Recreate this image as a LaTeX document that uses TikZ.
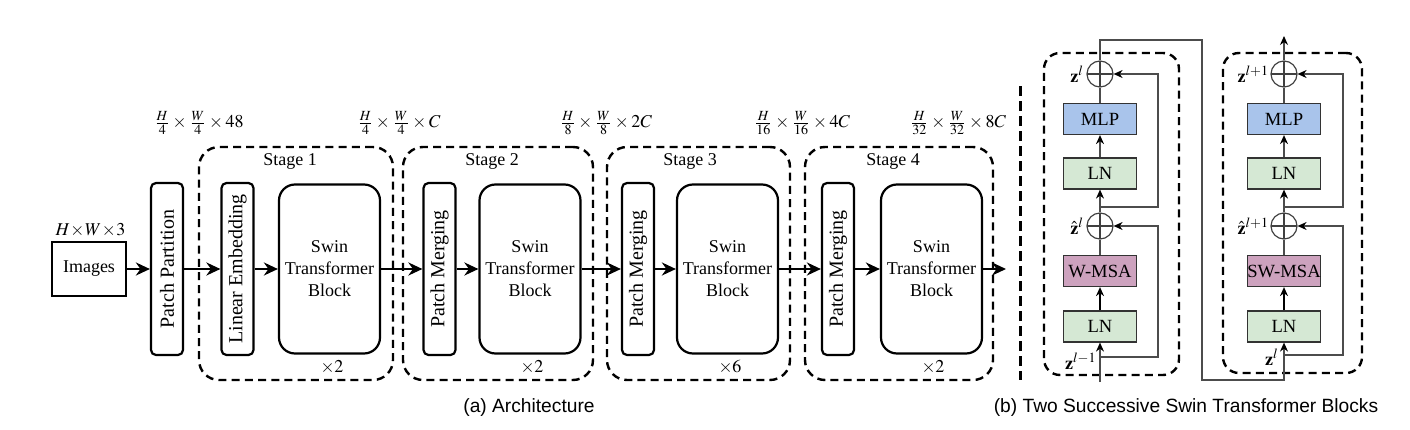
\documentclass[tikz,border=0pt]{standalone}
\usepackage{mathptmx}
\usepackage{fontspec}
\setmainfont{Liberation Serif}
\newfontfamily\capfont{Liberation Sans}
\usetikzlibrary{arrows.meta}
\definecolor{mlpblue}{HTML}{A9C4EB}
\definecolor{lngreen}{HTML}{D5E8D4}
\definecolor{msapink}{HTML}{CDA2BE}
\begin{document}
\begin{tikzpicture}[x=0.5pt,y=-0.5pt,
  font=\fontsize{9}{11}\selectfont,
  blk/.style={draw, line width=1.1pt, rounded corners=2.5pt, inner sep=0pt},
  vblk/.style={blk, rotate=90, minimum width=86pt, minimum height=16pt, font=\fontsize{10}{12}\selectfont},
  swin/.style={draw, line width=1.1pt, rounded corners=8pt, minimum width=50.5pt, minimum height=84.5pt, align=center, inner sep=0pt},
  stage/.style={draw, line width=1.2pt, dash pattern=on 4pt off 2.6pt, rounded corners=10pt, inner sep=0pt},
  arr/.style={line width=1.35pt, -{Stealth[length=7pt,width=6.5pt]}},
  bbox/.style={draw=black!80, line width=0.6pt, minimum width=36.5pt, minimum height=15.5pt, inner sep=0pt, font=\fontsize{9.3}{11}\selectfont},
  circ/.style={circle, draw=black!75, line width=0.6pt, minimum size=13pt, inner sep=0pt,
    path picture={\draw[black!75, line width=0.6pt] (path picture bounding box.north) -- (path picture bounding box.south) (path picture bounding box.west) -- (path picture bounding box.east);}},
  thinl/.style={draw=black!70, line width=0.6pt},
  tarr/.style={thinl, -{Stealth[length=4.5pt,width=4pt,color=black]}},
  tharr/.style={draw=black, line width=1pt, -{Stealth[length=4.5pt,width=4pt,color=black]}},
  bstage/.style={draw, line width=1.2pt, dash pattern=on 4pt off 2.6pt, rounded corners=8pt, inner sep=0pt}
]
\useasboundingbox (0,0) rectangle (1410,429);

% ---------- (a) ----------
\node[stage, minimum width=97pt, minimum height=116.5pt] (st1) at (296,263.5) {};
\node[stage, minimum width=95pt, minimum height=116.5pt] (st2) at (498,263.5) {};
\node[stage, minimum width=91.5pt, minimum height=116.5pt] (st3) at (698.5,263.5) {};
\node[stage, minimum width=94pt, minimum height=116.5pt] (st4) at (899,263.5) {};
\node (st1l) at (290,161) {Stage 1};
\node (st2l) at (492,161) {Stage 2};
\node (st3l) at (690,161) {Stage 3};
\node (st4l) at (893,161) {Stage 4};
\node (st1r) at (332,367) {$\times 2$};
\node (st2r) at (532,367) {$\times 2$};
\node (st3r) at (730,367) {$\times 6$};
\node (st4r) at (933,367) {$\times 2$};

\node[draw, line width=1.1pt, inner sep=0pt, minimum width=37pt, minimum height=27pt] (img) at (89,269) {Images};
\node (imgl) at (90.5,230) {$H\!\times\! W\!\times\! 3$};
\node[vblk] (pp) at (167,269) {Patch Partition};
\node[vblk] (le) at (237.5,269) {Linear Embedding};
\node[swin] (sw1) at (329.5,269) {Swin\\Transformer\\Block};
\node[vblk] (pm2) at (439.5,269) {Patch Merging};
\node[swin] (sw2) at (530,269) {Swin\\Transformer\\Block};
\node[vblk] (pm3) at (638,269) {Patch Merging};
\node[swin] (sw3) at (727.5,269) {Swin\\Transformer\\Block};
\node[vblk] (pm4) at (838,269) {Patch Merging};
\node[swin] (sw4) at (931.5,269) {Swin\\Transformer\\Block};
\coordinate (out) at (1006,269);

\draw[arr] (img) -- (pp);
\draw[arr] (pp) -- (le);
\draw[arr] (le) -- (sw1);
\draw[arr] (sw1) -- (pm2);
\draw[arr] (pm2) -- (sw2);
\draw[arr] (sw2) -- (pm3);
\draw[arr] (pm3) -- (sw3);
\draw[arr] (sw3) -- (pm4);
\draw[arr] (pm4) -- (sw4);
\draw[arr] (sw4) -- (out);

\node (d0) at (199,123) {$\frac{H}{4}\times\frac{W}{4}\times 48$};
\node (d1) at (399,123) {$\frac{H}{4}\times\frac{W}{4}\times C$};
\node (d2) at (606,123) {$\frac{H}{8}\times\frac{W}{8}\times 2C$};
\node (d3) at (802,123) {$\frac{H}{16}\times\frac{W}{16}\times 4C$};
\node (d4) at (958,123) {$\frac{H}{32}\times\frac{W}{32}\times 8C$};

% separator
\draw[line width=1.5pt, dash pattern=on 5pt off 2.5pt] (1020,86) coordinate (sepa) -- (1020,380) coordinate (sepb);

% ---------- (b) ----------
\node[bstage, minimum width=67.5pt, minimum height=161pt] (blk1) at (1111.5,214) {};
\node[bstage, minimum width=69.5pt, minimum height=160pt] (blk2) at (1292.5,213) {};

\node[bbox, fill=lngreen] (lnA1) at (1100,326.5) {LN};
\node[bbox, fill=msapink] (msa1) at (1100,271) {W-MSA};
\node[circ] (add1a) at (1100,226) {};
\node[bbox, fill=lngreen] (lnB1) at (1100,173.5) {LN};
\node[bbox, fill=mlpblue] (mlp1) at (1100,119) {MLP};
\node[circ] (add1b) at (1100,74) {};

\node[bbox, fill=lngreen] (lnA2) at (1284,326.5) {LN};
\node[bbox, fill=msapink] (msa2) at (1284,271) {SW-MSA};
\node[circ] (add2a) at (1284,226) {};
\node[bbox, fill=lngreen] (lnB2) at (1284,173.5) {LN};
\node[bbox, fill=mlpblue] (mlp2) at (1284,119) {MLP};
\node[circ] (add2b) at (1284,74) {};

\coordinate (in1) at (1100,382);
\coordinate (r1a) at (1100,357);
\coordinate (r1b) at (1100,207);
\coordinate (r2a) at (1284,355);
\coordinate (r2b) at (1284,207);
\coordinate (out2) at (1284,36);

\draw[tarr] (in1) -- (lnA1.south);
\draw[tarr] (r1a) -- ++(58,0) |- (add1a.east);
\draw[tharr] (lnA1.north) -- (msa1.south);
\draw[thinl] (msa1.north) -- (add1a.south);
\draw[tarr] (add1a.north) -- (lnB1.south);
\draw[tarr] (r1b) -- ++(58,0) |- (add1b.east);
\draw[tarr] (lnB1.north) -- (mlp1.south);
\draw[thinl] (mlp1.north) -- (add1b.south);
\draw[tarr] (add1b.north) -- (1100,40) -| (1202,380) -| (lnA2.south);

\draw[tarr] (r2a) -- ++(59,0) |- (add2a.east);
\draw[tharr] (lnA2.north) -- (msa2.south);
\draw[thinl] (msa2.north) -- (add2a.south);
\draw[tarr] (add2a.north) -- (lnB2.south);
\draw[tarr] (r2b) -- ++(59,0) |- (add2b.east);
\draw[tarr] (lnB2.north) -- (mlp2.south);
\draw[thinl] (mlp2.north) -- (add2b.south);
\draw[tarr] (add2b.north) -- (out2);

\node[anchor=east, inner sep=1pt] (z1) at (add1b.west) {$\mathbf{z}^{l}$};
\node[anchor=east, inner sep=1pt] (zh1) at (add1a.west) {$\hat{\mathbf{z}}^{l}$};
\node[anchor=east, inner sep=1pt] (z0) at (1099,361) {$\mathbf{z}^{l-1}$};
\node[anchor=east, inner sep=0.5pt] (z2) at (add2b.west) {$\mathbf{z}^{l+1}$};
\node[anchor=east, inner sep=0.5pt] (zh2) at (add2a.west) {$\hat{\mathbf{z}}^{l+1}$};
\node[anchor=east, inner sep=1pt] (z1b) at (1281,357) {$\mathbf{z}^{l}$};

% captions
\node[font=\capfont\fontsize{9.6}{11}\selectfont] (capa) at (529,408) {(a) Architecture};
\node[font=\capfont\fontsize{9.6}{11}\selectfont] (capb) at (1186,408) {(b) Two Successive Swin Transformer Blocks};
\end{tikzpicture}
\end{document}
